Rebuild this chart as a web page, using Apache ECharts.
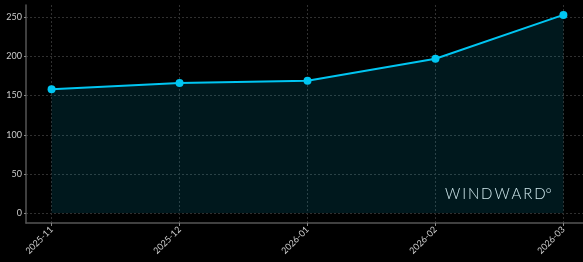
<!DOCTYPE html>
<html><head><meta charset="utf-8">
<script src="https://cdn.jsdelivr.net/npm/echarts@6/dist/echarts.min.js"></script>
<style>html,body{margin:0;padding:0;background:#000;}#c{width:583px;height:262px;}</style>
</head><body><div id="c"></div>
<script>
const categories = ['2025-11','2025-12','2026-01','2026-02','2026-03'];
const values = [158, 166, 169, 197, 253];
const yTicks = [0, 50, 100, 150, 200, 250];
const xTicks = [0, 1, 2, 3, 4];

const chart = echarts.init(document.getElementById('c'));
const labelFont = 'Lato, "DejaVu Sans", sans-serif';
chart.setOption({
  backgroundColor: '#000000',
  animation: false,
  grid: { left: 26, width: 563, top: 5, height: 218, containLabel: false, outerBoundsMode: 'none' },
  xAxis: {
    type: 'value', min: -0.2, max: 4.2,
    axisLine: { show: true, onZero: false, lineStyle: { color: '#555', width: 1.5 } },
    axisTick: { show: true, customValues: xTicks, length: 3, lineStyle: { color: '#888' } },
    axisLabel: { customValues: xTicks, rotate: 45, color: '#cccccc', fontSize: 9, fontFamily: labelFont, margin: 5,
      formatter: v => categories[Math.round(v)] },
    splitLine: { show: true, lineStyle: { color: '#303030', type: [2, 2], width: 1 } }
  },
  yAxis: {
    type: 'value', min: -12.65, max: 265.65,
    axisLine: { show: true, onZero: false, lineStyle: { color: '#555', width: 1.5 } },
    axisTick: { show: true, customValues: yTicks, length: 2, lineStyle: { color: '#888' } },
    axisLabel: { customValues: yTicks, color: '#cccccc', fontSize: 9, fontFamily: labelFont, margin: 4 },
    splitLine: { show: true, lineStyle: { color: '#303030', type: [2, 2], width: 1 } }
  },
  series: [{
    type: 'line',
    data: values.map((v, i) => [xTicks[i], v]),
    symbol: 'circle', symbolSize: 8,
    itemStyle: { color: '#00c6f2' },
    lineStyle: { color: '#00c6f2', width: 2 },
    areaStyle: { color: 'rgba(0,190,230,0.18)', origin: 0 }
  }],
  graphic: [{
    type: 'text', left: 445, top: 187,
    style: { text: 'W\u2009I\u2009N\u2009D\u2009W\u2009A\u2009R\u2009D\u00b0', fill: '#eeeeee', fontSize: 15, fontFamily: 'Lato, sans-serif', fontWeight: 300 }
  }]
});
</script></body></html>
